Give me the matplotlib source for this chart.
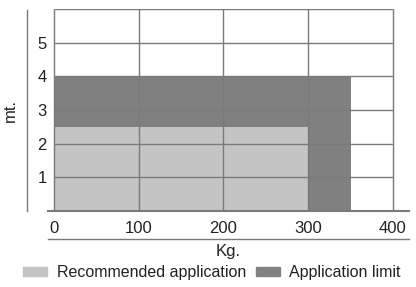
import matplotlib
matplotlib.use("Agg")
import matplotlib.pyplot as plt
from matplotlib.lines import Line2D
from matplotlib.patches import Rectangle

# load (kg) / height (mt.) envelopes
recommended_kg = 300
recommended_mt = 2.5
limit_kg = 350
limit_mt = 4
x_ticks = [0, 100, 200, 300, 400]
y_ticks = [1, 2, 3, 4, 5]
y_top = 6

light = "#c4c4c4"
dark = "#808080"
line = "#7a7a7a"

plt.rcParams["font.family"] = ["Liberation Sans", "DejaVu Sans"]

fig = plt.figure(figsize=(4.16, 2.87), dpi=100)
ax = fig.add_axes([48 / 416, 76 / 287, 361 / 416, 202 / 287])

ax.add_patch(Rectangle((0, 0), limit_kg, limit_mt, color=dark, lw=0, zorder=1))
ax.add_patch(Rectangle((0, 0), recommended_kg, recommended_mt, color=light, lw=0, zorder=2))

ax.hlines(y_ticks + [y_top], 0, 400, color=line, lw=1, zorder=3)
ax.vlines(x_ticks, 0, y_top, color=line, lw=1, zorder=3)

ax.set_xlim(-7, 419)
ax.set_ylim(0, y_top)
ax.set_xticks(x_ticks)
ax.set_yticks(y_ticks)
ax.tick_params(length=0, labelsize=12, colors="#222222")
ax.tick_params(axis="x", pad=7)
ax.tick_params(axis="y", pad=1)
for s in ["top", "right", "left"]:
    ax.spines[s].set_visible(False)
ax.spines["bottom"].set_color(line)
ax.spines["bottom"].set_linewidth(1.5)

ax.set_xlabel("Kg.", fontsize=12, labelpad=6, color="#222222")
ax.set_ylabel("mt.", fontsize=12, labelpad=14, color="#222222")

# extra frame lines
fig.add_artist(Line2D([27 / 416, 27 / 416], [76 / 287, 277 / 287], color=line, lw=1))
fig.add_artist(Line2D([48 / 416, 409 / 416], [48 / 287, 48 / 287], color=line, lw=1))

handles = [Rectangle((0, 0), 1, 1, color=light), Rectangle((0, 0), 1, 1, color=dark)]
fig.legend(handles, ["Recommended application", "Application limit"], loc="lower center",
           bbox_to_anchor=(0.51, -0.025), ncol=2, frameon=False, fontsize=11.5,
           handlelength=1.5, handleheight=0.5, columnspacing=0.6, handletextpad=0.6,
           labelcolor="#222222")

fig.savefig("out.png", dpi=100)
